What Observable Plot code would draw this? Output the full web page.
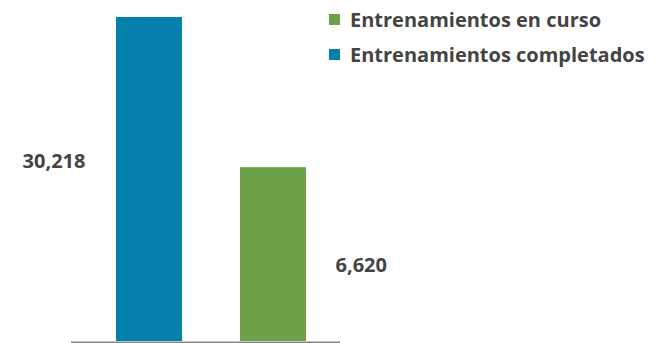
<!DOCTYPE html>
<html>
<head>
<meta charset="utf-8">
<script src="https://cdn.jsdelivr.net/npm/d3@7"></script>
<script src="https://cdn.jsdelivr.net/npm/@observablehq/plot@0.6"></script>
<style>
  html, body { margin: 0; padding: 0; background: #fff; }
  #chart { position: relative; width: 661px; height: 343px; font-family: "Open Sans", sans-serif; }
  #legend { position: absolute; left: 329px; top: 7px; }
  .item { display: flex; align-items: center; height: 24px; margin-bottom: 11.5px;
          font-size: 20px; font-weight: 700; color: #444; white-space: nowrap; }
  .sw { width: 11px; height: 11px; margin-right: 10px; flex: none; }
</style>
</head>
<body>
<div id="chart"><div id="legend"></div></div>
<script>
// Data
const categories = ["Entrenamientos completados", "Entrenamientos en curso"];
const values = [30218, 6620];
const legendOrder = ["Entrenamientos en curso", "Entrenamientos completados"];
const colors = ["#0580aa", "#6ca149"];

const data = categories.map((c, i) => ({cat: c, value: values[i]}));
const fmt = d3.format(",");

const plot = Plot.plot({
  width: 661,
  height: 343,
  marginTop: 17,
  marginBottom: 2,
  marginLeft: 71,
  marginRight: 321,
  style: {fontFamily: "Open Sans, sans-serif", background: "transparent"},
  x: {domain: categories, axis: null, paddingInner: 0.464, paddingOuter: 0.308, align: 0.571},
  y: {type: "pow", exponent: 0.41, domain: [0, values[0]], axis: null},
  color: {domain: categories, range: colors},
  marks: [
    Plot.barY(data, {x: "cat", y: "value", fill: "cat"}),
    Plot.ruleY([0], {stroke: "#858585", strokeWidth: 2, dy: 1}),
    Plot.text(data.filter((d, i) => i === 0), {
      x: "cat", y: "value", text: d => fmt(d.value),
      textAnchor: "end", dx: -64, dy: 144,
      fontSize: 20, fontWeight: 700, fill: "#444"
    }),
    Plot.text(data.filter((d, i) => i === 1), {
      x: "cat", y: "value", text: d => fmt(d.value),
      textAnchor: "start", dx: 62, dy: 98,
      fontSize: 20, fontWeight: 700, fill: "#444"
    })
  ]
});
const chart = document.getElementById("chart");
chart.insertBefore(plot, chart.firstChild);

const color = plot.scale("color");
const legend = document.getElementById("legend");
legendOrder.forEach(name => {
  const item = document.createElement("div");
  item.className = "item";
  const sw = document.createElement("span");
  sw.className = "sw";
  sw.style.background = colors[color.domain.indexOf(name)];
  const label = document.createElement("span");
  label.textContent = name;
  item.appendChild(sw);
  item.appendChild(label);
  legend.appendChild(item);
});
</script>
</body>
</html>
